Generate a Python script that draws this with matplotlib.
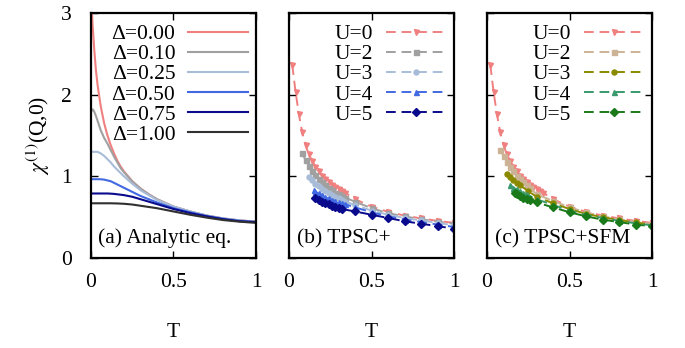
import numpy as np
import matplotlib.pyplot as plt

plt.rcParams['font.family'] = ['Liberation Serif', 'DejaVu Serif']
plt.rcParams['mathtext.fontset'] = 'stix'

# (a) analytic curves chi(T) for several gaps
T_a = [0.0, 0.005, 0.01, 0.015, 0.02, 0.03, 0.04, 0.05, 0.06, 0.08, 0.10, 0.12, 0.14,
       0.16, 0.18, 0.20, 0.25, 0.30, 0.35, 0.40, 0.50, 0.60, 0.70, 0.80, 0.90, 1.00]
delta_labels = ['Δ=0.00', 'Δ=0.10', 'Δ=0.25', 'Δ=0.50', 'Δ=0.75', 'Δ=1.00']
chi_d000 = [3.60, 3.05, 2.85, 2.70, 2.55, 2.30, 2.12, 1.98, 1.85, 1.65, 1.50, 1.38, 1.28,
            1.19, 1.12, 1.06, 0.94, 0.85, 0.78, 0.72, 0.63, 0.57, 0.52, 0.485, 0.46, 0.445]
chi_d010 = [1.78, 1.81, 1.82, 1.81, 1.79, 1.74, 1.68, 1.62, 1.56, 1.47, 1.40, 1.32, 1.24,
            1.17, 1.10, 1.05, 0.94, 0.85, 0.78, 0.72, 0.63, 0.57, 0.52, 0.485, 0.46, 0.445]
chi_d025 = [1.30, 1.30, 1.30, 1.30, 1.30, 1.30, 1.30, 1.29, 1.28, 1.25, 1.21, 1.17, 1.12,
            1.08, 1.04, 1.00, 0.91, 0.83, 0.77, 0.71, 0.63, 0.57, 0.52, 0.485, 0.46, 0.445]
chi_d050 = [0.965, 0.965, 0.965, 0.965, 0.965, 0.965, 0.965, 0.965, 0.964, 0.96, 0.95, 0.94, 0.92,
            0.90, 0.88, 0.86, 0.81, 0.76, 0.72, 0.68, 0.61, 0.56, 0.515, 0.48, 0.455, 0.44]
chi_d075 = [0.79, 0.79, 0.79, 0.79, 0.79, 0.79, 0.79, 0.79, 0.79, 0.79, 0.79, 0.788, 0.785,
            0.78, 0.775, 0.77, 0.75, 0.72, 0.69, 0.66, 0.60, 0.55, 0.51, 0.475, 0.45, 0.44]
chi_d100 = [0.67, 0.67, 0.67, 0.67, 0.67, 0.67, 0.67, 0.67, 0.67, 0.67, 0.67, 0.67, 0.669,
            0.668, 0.666, 0.664, 0.655, 0.64, 0.625, 0.61, 0.57, 0.53, 0.495, 0.465, 0.445, 0.43]
delta_colors = ['#f08080', '#a0a0a0', '#a8bcd8', '#4169e1', '#0a0a8c', '#303030']

u_labels = ['U=0', 'U=2', 'U=3', 'U=4', 'U=5']
u_markers = ['v', 's', 'o', '^', 'D']

# U=0 reference (shared by both numerical panels)
T_u0 = [0.02, 0.04, 0.06, 0.08, 0.10, 0.12, 0.14, 0.16, 0.18, 0.20, 0.22, 0.24, 0.26,
        0.28, 0.30, 0.32, 0.34, 0.40, 0.50, 0.60, 0.70, 0.80, 0.90, 1.00]
chi_u0 = [2.36, 2.03, 1.76, 1.54, 1.38, 1.27, 1.19, 1.12, 1.06, 1.01, 0.97, 0.93, 0.90,
          0.87, 0.84, 0.82, 0.80, 0.72, 0.63, 0.565, 0.52, 0.485, 0.455, 0.43]

# (b) TPSC+
T_b2 = [0.08, 0.10, 0.12, 0.14, 0.16, 0.18, 0.20, 0.22, 0.24, 0.26, 0.28, 0.30, 0.32, 0.34,
        0.40, 0.50, 0.60, 0.70, 0.80, 0.90, 1.00]
chi_b2 = [1.28, 1.20, 1.13, 1.07, 1.02, 0.97, 0.93, 0.89, 0.86, 0.83, 0.80, 0.78, 0.76, 0.74,
          0.69, 0.61, 0.55, 0.51, 0.475, 0.445, 0.42]
T_b3 = [0.12, 0.14, 0.16, 0.18, 0.20, 0.22, 0.24, 0.26, 0.28, 0.30, 0.32, 0.34,
        0.40, 0.50, 0.60, 0.70, 0.80, 0.90, 1.00]
chi_b3 = [0.99, 0.95, 0.91, 0.88, 0.85, 0.82, 0.79, 0.77, 0.75, 0.73, 0.71, 0.69,
          0.65, 0.58, 0.53, 0.49, 0.46, 0.43, 0.40]
T_b4 = [0.15, 0.16, 0.18, 0.20, 0.22, 0.24, 0.26, 0.28, 0.30, 0.32, 0.34,
        0.40, 0.50, 0.60, 0.70, 0.80, 0.90, 1.00]
chi_b4 = [0.83, 0.81, 0.79, 0.77, 0.75, 0.73, 0.71, 0.70, 0.68, 0.67, 0.66,
          0.62, 0.56, 0.51, 0.47, 0.44, 0.41, 0.38]
T_b5 = [0.16, 0.18, 0.20, 0.22, 0.24, 0.26, 0.28, 0.30, 0.32,
        0.40, 0.50, 0.60, 0.70, 0.80, 0.90, 1.00]
chi_b5 = [0.73, 0.71, 0.69, 0.67, 0.66, 0.64, 0.63, 0.61, 0.60,
          0.57, 0.53, 0.49, 0.45, 0.42, 0.39, 0.36]
b_colors = ['#f08080', '#a0a0a0', '#a8bcd8', '#4169e1', '#0a0a8c']

# (c) TPSC+SFM
T_c2 = [0.08, 0.10, 0.12, 0.14, 0.16, 0.18, 0.20, 0.22, 0.24, 0.26,
        0.30, 0.40, 0.50, 0.60, 0.70, 0.80, 0.90, 1.00]
chi_c2 = [1.32, 1.25, 1.18, 1.12, 1.06, 1.01, 0.97, 0.93, 0.89, 0.86,
          0.78, 0.70, 0.62, 0.56, 0.51, 0.475, 0.445, 0.42]
T_c3 = [0.12, 0.14, 0.16, 0.18, 0.20, 0.25, 0.30, 0.40, 0.50, 0.60, 0.70, 0.80, 0.90, 1.00]
chi_c3 = [1.03, 0.99, 0.95, 0.92, 0.89, 0.82, 0.75, 0.67, 0.60, 0.54, 0.50, 0.465, 0.435, 0.41]
T_c4 = [0.14, 0.16, 0.18, 0.20, 0.22, 0.24, 0.30, 0.40, 0.50, 0.60, 0.70, 0.80, 0.90, 1.00]
chi_c4 = [0.89, 0.86, 0.84, 0.82, 0.80, 0.78, 0.72, 0.65, 0.58, 0.53, 0.49, 0.455, 0.425, 0.40]
T_c5 = [0.17, 0.18, 0.20, 0.22, 0.24, 0.26, 0.30, 0.40, 0.50, 0.60, 0.70, 0.80, 0.90, 1.00]
chi_c5 = [0.79, 0.78, 0.76, 0.74, 0.72, 0.71, 0.68, 0.62, 0.56, 0.51, 0.47, 0.44, 0.41, 0.39]
c_colors = ['#f08080', '#cdb396', '#8a8a00', '#3a9a6e', '#1a7a1a']

FS = 15.5

fig = plt.figure(figsize=(6.85, 3.48), dpi=100)
lefts = [0.1328, 0.4219, 0.7110]
axes = [fig.add_axes([l, 0.2586, 0.2409, 0.704]) for l in lefts]


def style_axis(ax, ylabels):
    ax.set_xlim(0, 1)
    ax.set_ylim(0, 3)
    ax.set_xticks([0, 0.5, 1])
    ax.set_xticklabels(['0', '0.5', '1'])
    ax.set_yticks([0, 1, 2, 3])
    if not ylabels:
        ax.set_yticklabels([])
    ax.tick_params(direction='in', length=5, width=1, top=True, right=True,
                   labelsize=FS)
    ax.tick_params(axis='x', pad=11)
    ax.tick_params(axis='y', pad=14)
    for s in ax.spines.values():
        s.set_linewidth(1.6)
    ax.set_xlabel('T', fontsize=FS, labelpad=22)


ax = axes[0]
for chi, lab, col in zip([chi_d000, chi_d010, chi_d025, chi_d050, chi_d075, chi_d100],
                         delta_labels, delta_colors):
    ax.plot(T_a, chi, color=col, lw=1.5, label=lab)
style_axis(ax, True)
ax.set_ylabel(r'$\chi^{(1)}$(Q,0)', fontsize=FS, labelpad=6)
ax.text(0.04, 0.06, '(a) Analytic eq.', transform=ax.transAxes, fontsize=FS)


def draw_u(ax, series, colors):
    for (t, chi), lab, col, mk in zip(series, u_labels, colors, u_markers):
        ax.plot(t, chi, color=col, lw=1.4, ls=(0, (5, 3)), marker=mk, ms=3.6,
                label=lab)


draw_u(axes[1], [(T_u0, chi_u0), (T_b2, chi_b2), (T_b3, chi_b3), (T_b4, chi_b4),
                 (T_b5, chi_b5)], b_colors)
style_axis(axes[1], False)
axes[1].text(0.05, 0.06, '(b) TPSC+', transform=axes[1].transAxes, fontsize=FS)

draw_u(axes[2], [(T_u0, chi_u0), (T_c2, chi_c2), (T_c3, chi_c3), (T_c4, chi_c4),
                 (T_c5, chi_c5)], c_colors)
style_axis(axes[2], False)
axes[2].text(0.05, 0.06, '(c) TPSC+SFM', transform=axes[2].transAxes, fontsize=FS)

for ax in axes:
    ax.legend(loc='upper right', bbox_to_anchor=(1.0, 0.985), frameon=False,
              markerfirst=False, fontsize=FS, handlelength=2.8, handletextpad=0.6,
              labelspacing=0.0, borderaxespad=0.1, borderpad=0.25, numpoints=1)

fig.savefig('out.png', dpi=100)
